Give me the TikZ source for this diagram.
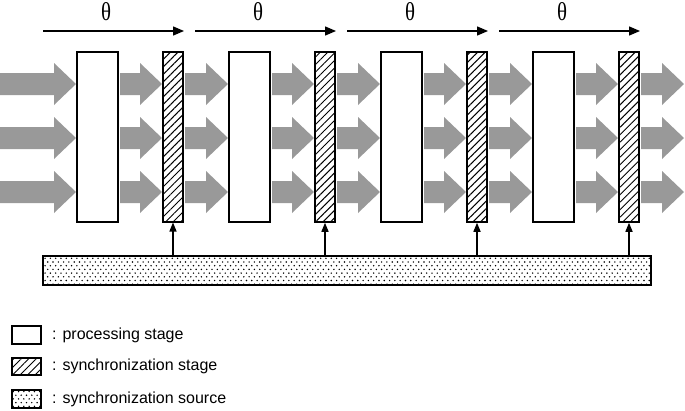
\documentclass[tikz,border=0pt]{standalone}
\usepackage{fontspec}
\setmainfont{Liberation Sans}
\newfontfamily\grkfont{Liberation Serif}
\usetikzlibrary{arrows.meta,patterns,patterns.meta}
\definecolor{arrgray}{RGB}{153,153,153}
\pgfdeclarepatternformonly{sdots}{\pgfqpoint{-1pt}{-1pt}}{\pgfqpoint{6.3pt}{8.4pt}}{\pgfqpoint{5.3pt}{7.4pt}}{%
  \pgfpathcircle{\pgfqpoint{0pt}{0pt}}{0.8pt}%
  \pgfpathcircle{\pgfqpoint{2.65pt}{3.7pt}}{0.8pt}%
  \pgfusepath{fill}}
\newcommand\fatarrow[3]{%
  \fill[arrgray] (#1,#3-11) -- (#2-22,#3-11) -- (#2-22,#3-21) -- (#2,#3) -- (#2-22,#3+21) -- (#2-22,#3+11) -- (#1,#3+11) -- cycle;}
\newcommand\thetaglyph{\resizebox{10pt}{18pt}{\grkfont θ}}
\tikzset{
  procbox/.style={draw, line width=1.5pt, fill=white, inner sep=0pt, minimum width=41pt, minimum height=170pt},
  syncbox/.style={draw, line width=1.5pt, inner sep=0pt, minimum width=20pt, minimum height=170pt,
    pattern={Lines[angle=45,distance=5.3pt,line width=1pt]}},
  srcbox/.style={draw, line width=1.5pt, inner sep=0pt, pattern=sdots},
  thetaarrow/.style={line width=1.3pt, -{Triangle[length=11pt,width=9pt]}},
  syncarrow/.style={line width=1.4pt, -{Triangle[length=9pt,width=7pt]}},
  thetalabel/.style={inner sep=0pt},
  legtext/.style={font=\fontsize{16}{18}\selectfont, anchor=west, inner sep=0pt},
}
\begin{document}
\begin{tikzpicture}[x=1pt,y=-1pt]
\useasboundingbox (0,0) rectangle (685,410);
% fat arrows
\foreach \r in {84,138,192}{
  \fatarrow{0}{76}{\r}
  \foreach \o in {0,152,304,456}{
    \fatarrow{120+\o}{162+\o}{\r}
  }
  \foreach \o in {152,304,456}{
    \fatarrow{33+\o}{76+\o}{\r}
  }
  \fatarrow{641}{684}{\r}
}
% source bar
\node[srcbox, minimum width=608pt, minimum height=29pt] (src) at (347,270.5) {};
% stages
\foreach \i/\o in {1/0,2/152,3/304,4/456}{
  \node[procbox] (p\i) at (97.5+\o,137) {};
  \node[syncbox] (s\i) at (173+\o,137) {};
  \draw[syncarrow] (s\i |- src.north) -- (s\i.south);
  \coordinate (ta\i) at (43+\o,31);
  \coordinate (tb\i) at (184+\o,31);
  \draw[thetaarrow] (ta\i) -- (tb\i);
  \node[thetalabel] (th\i) at (106+\o,12) {\thetaglyph};
}
% legend
\node[draw, line width=1.5pt, inner sep=0pt, minimum width=29pt, minimum height=18pt] (l1) at (26.5,335) {};
\node[legtext] (lt1) at (52,335) {: processing stage};
\node[draw, line width=1.5pt, inner sep=0pt, minimum width=29pt, minimum height=17pt,
  pattern={Lines[angle=45,distance=5.3pt,line width=1pt]}] (l2) at (26.5,366.5) {};
\node[legtext] (lt2) at (52,366.5) {: synchronization stage};
\node[draw, line width=1.5pt, inner sep=0pt, minimum width=29pt, minimum height=18pt, pattern=sdots] (l3) at (26.5,399) {};
\node[legtext] (lt3) at (52,399) {: synchronization source};
\end{tikzpicture}
\end{document}
